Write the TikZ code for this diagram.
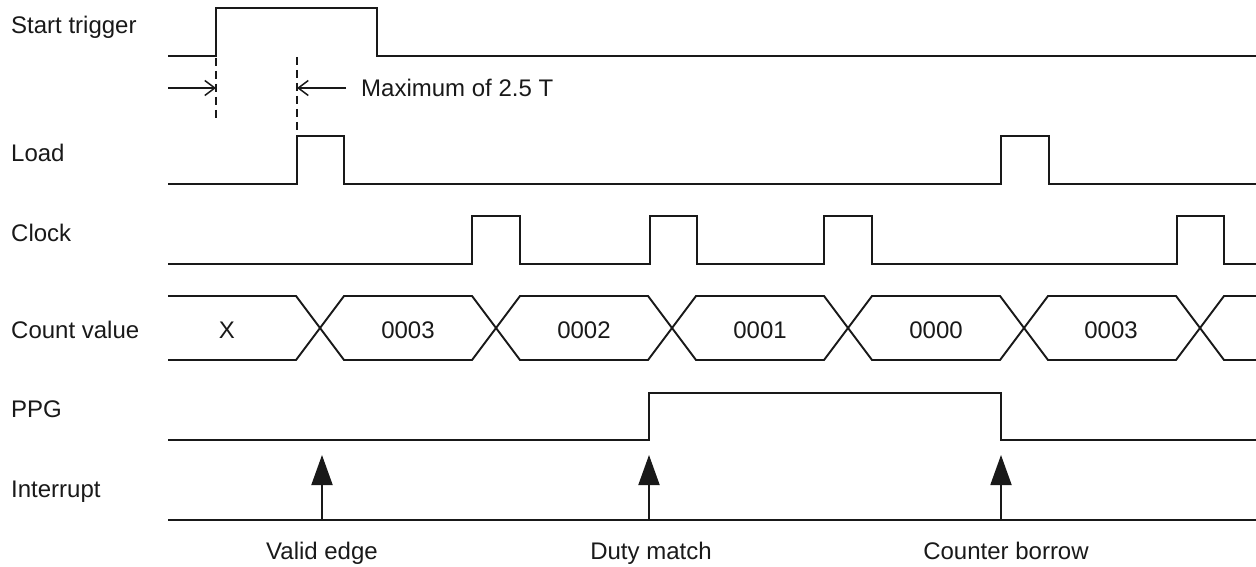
\documentclass[tikz,border=0pt]{standalone}
\usepackage{fontspec}
\setmainfont{Liberation Sans}
\usetikzlibrary{arrows.meta}
\begin{document}
\begin{tikzpicture}[x=1pt,y=-1pt,
  sig/.style={line width=1.9pt,line join=miter,color=black!90},
  lbl/.style={anchor=base west,inner sep=0pt,font=\fontsize{24}{26}\selectfont,text=black!90},
  ctr/.style={anchor=base,inner sep=0pt,font=\fontsize{24}{26}\selectfont,text=black!90},
  dim/.style={line width=1.5pt,color=black!90},
  dashline/.style={line width=2pt,color=black!90,dash pattern=on 8pt off 5pt},
  intarrow/.style={line width=1.9pt,color=black!90,-{Triangle[width=21pt,length=30pt]}}]
\useasboundingbox (0,0) rectangle (1256,567);
% labels
\node[lbl] (lstart) at (11,34) {Start trigger};
\node[lbl] (lload) at (11,162) {Load};
\node[lbl] (lclock) at (11,241) {Clock};
\node[lbl] (lcount) at (11,338) {Count value};
\node[lbl] (lppg) at (11,417) {PPG};
\node[lbl] (lint) at (11,497) {Interrupt};
% start trigger
\draw[sig] (168,56) -- (216,56) -- (216,8) -- (377,8) -- (377,56) -- (1256,56);
% dimension
\draw[dashline] (216,58) -- (216,120);
\draw[dashline] (297,57) -- (297,136);
\coordinate (da) at (168,88);
\coordinate (db) at (216,88);
\coordinate (dc) at (346,88);
\coordinate (dd) at (297,88);
\draw[dim,-{Straight Barb[length=10pt,width=15pt]}] (da) -- (db);
\draw[dim,-{Straight Barb[length=10pt,width=15pt]}] (dc) -- (dd);
\node[lbl] (lmax) at (361,97) {Maximum of 2.5 T};
% load
\draw[sig] (168,184) -- (297,184) -- (297,136) -- (344,136) -- (344,184) -- (1001,184) -- (1001,136) -- (1049,136) -- (1049,184) -- (1256,184);
% clock
\draw[sig] (168,264) -- (472,264) -- (472,216) -- (520,216) -- (520,264)
  -- (650,264) -- (650,216) -- (697,216) -- (697,264)
  -- (824,264) -- (824,216) -- (872,216) -- (872,264)
  -- (1177,264) -- (1177,216) -- (1224,216) -- (1224,264) -- (1256,264);
% count value
\draw[sig] (168,296) -- (296,296) -- (344,360) -- (472,360) -- (520,296) -- (648,296) -- (696,360) -- (824,360) -- (872,296) -- (1000,296) -- (1048,360) -- (1176,360) -- (1224,296) -- (1256,296);
\draw[sig] (168,360) -- (296,360) -- (344,296) -- (472,296) -- (520,360) -- (648,360) -- (696,296) -- (824,296) -- (872,360) -- (1000,360) -- (1048,296) -- (1176,296) -- (1224,360) -- (1256,360);
\node[ctr] (cx) at (227,338) {X};
\node[ctr] (c1) at (408,338) {0003};
\node[ctr] (c2) at (584,338) {0002};
\node[ctr] (c3) at (760,338) {0001};
\node[ctr] (c4) at (936,338) {0000};
\node[ctr] (c5) at (1111,338) {0003};
% PPG
\draw[sig] (168,440) -- (649,440) -- (649,393) -- (1001,393) -- (1001,440) -- (1256,440);
% interrupt
\draw[sig] (168,520) -- (1256,520);
\coordinate (a1s) at (322,520); \coordinate (a1e) at (322,455);
\coordinate (a2s) at (649,520); \coordinate (a2e) at (649,455);
\coordinate (a3s) at (1001,520); \coordinate (a3e) at (1001,455);
\draw[intarrow] (a1s) -- (a1e);
\draw[intarrow] (a2s) -- (a2e);
\draw[intarrow] (a3s) -- (a3e);
\node[ctr] (ev1) at (322,559) {Valid edge};
\node[ctr] (ev2) at (651,559) {Duty match};
\node[ctr] (ev3) at (1006,559) {Counter borrow};
\end{tikzpicture}
\end{document}
